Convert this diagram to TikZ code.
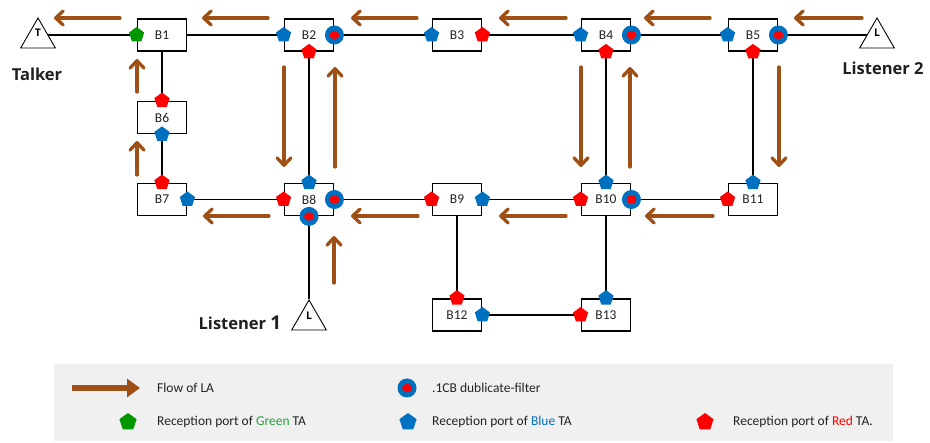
\documentclass[tikz,border=0pt]{standalone}
\usepackage{fontspec}
\setmainfont{Carlito}
\newfontfamily\labelfont{Open Sans}
\usetikzlibrary{shapes.geometric,arrows.meta}
\definecolor{flowbrown}{RGB}{158,80,22}
\definecolor{portblue}{RGB}{0,112,192}
\definecolor{portred}{RGB}{255,0,0}
\definecolor{portgreen}{RGB}{0,150,0}
\definecolor{wordgreen}{RGB}{40,160,60}
\definecolor{legendbg}{RGB}{240,240,240}
\definecolor{txt}{RGB}{35,35,35}
\pgfdeclarelayer{wires}
\pgfsetlayers{wires,main}
\begin{document}
\begin{tikzpicture}[x=1pt,y=-1pt,
  bridge/.style={draw,line width=1.8pt,fill=white,minimum width=49pt,minimum height=32pt,
    inner sep=0pt,text=txt,font=\fontsize{13.5}{13.5}\selectfont},
  wire/.style={line width=1.6pt},
  station/.style={regular polygon,regular polygon sides=3,draw,line width=0.9pt,fill=white,
    minimum size=40pt,inner sep=0pt},
  stletter/.style={font=\labelfont\bfseries\fontsize{10.5}{10.5}\selectfont,inner sep=0pt},
  stname/.style={font=\labelfont\bfseries\fontsize{16.5}{16.5}\selectfont,text=black!88,inner sep=0pt},
  pent/.style={regular polygon,regular polygon sides=5,minimum size=16pt,inner sep=0pt,draw=none},
  blueport/.style={pent,fill=portblue},
  redport/.style={pent,fill=portred},
  greenport/.style={pent,fill=portgreen},
  dupfilter/.style={circle,fill=portblue,minimum size=19pt,inner sep=0pt,
    path picture={\fill[portred] (path picture bounding box.center) ellipse (5pt and 4.2pt);}},
  flow/.style={draw=flowbrown,line width=3.3pt,line cap=round,
    -{Straight Barb[length=7.5pt,width=14pt,line join=round,line cap=round]}},
  legtext/.style={anchor=west,inner sep=0pt,text=txt,font=\fontsize{13.5}{13.5}\selectfont},
]
\useasboundingbox (0,0) rectangle (930,443);

% legend panel
\fill[legendbg] (54,364) rectangle (893,441);

% bridges
\node[bridge] (B1) at (162,35) {B1};
\node[bridge] (B2) at (309,35) {B2};
\node[bridge] (B3) at (457,35) {B3};
\node[bridge] (B4) at (606,35) {B4};
\node[bridge] (B5) at (753,35) {B5};
\node[bridge] (B6) at (162,117.5) {B6};
\node[bridge] (B7) at (162,199.5) {B7};
\node[bridge] (B8) at (309,199.5) {B8};
\node[bridge] (B9) at (457,199.5) {B9};
\node[bridge] (B10) at (606,199.5) {B10};
\node[bridge] (B11) at (753,199.5) {B11};
\node[bridge] (B12) at (457,315) {B12};
\node[bridge] (B13) at (606,315) {B13};

% end stations
\node[station] (talker) at (38,38) {};
\node[stletter] (talkerT) at (38,33) {T};
\node[station] (L2) at (877,38) {};
\node[stletter] (L2L) at (877,33) {L};
\node[station] (L1) at (309,320) {};
\node[stletter] (L1L) at (309,316) {L};

\node[stname] (talkername) at (37,74) {Talker};
\node[stname] (L2name) at (883,68) {Listener 2};
\node[stname] (L1name) at (240,323) {Listener {\fontsize{19}{19}\selectfont 1}};

% links
\begin{pgfonlayer}{wires}
  \draw[wire] (B1.west) -- (B1.west -| talker.center);
  \draw[wire] (B1) -- (B2);
  \draw[wire] (B2) -- (B3);
  \draw[wire] (B3) -- (B4);
  \draw[wire] (B4) -- (B5);
  \draw[wire] (B5.east) -- (B5.east -| L2.center);
  \draw[wire] (B1) -- (B6);
  \draw[wire] (B6) -- (B7);
  \draw[wire] (B7) -- (B8);
  \draw[wire] (B8) -- (B9);
  \draw[wire] (B9) -- (B10);
  \draw[wire] (B10) -- (B11);
  \draw[wire] (B2) -- (B8);
  \draw[wire] (B4) -- (B10);
  \draw[wire] (B5) -- (B11);
  \draw[wire] (B9) -- (B12);
  \draw[wire] (B10) -- (B13);
  \draw[wire] (B12) -- (B13);
  \draw[wire] (B8) -- (L1.corner 1);
\end{pgfonlayer}

% reception ports and duplicate filters
\node[greenport] (p1w) at (B1.west) {};
\node[blueport] (p2w) at (B2.west) {};
\node[redport] (p2s) at (B2.south) {};
\node[dupfilter] (f2e) at (B2.east) {};
\node[blueport] (p3w) at (B3.west) {};
\node[redport] (p3e) at (B3.east) {};
\node[blueport] (p4w) at (B4.west) {};
\node[redport] (p4s) at (B4.south) {};
\node[dupfilter] (f4e) at (B4.east) {};
\node[blueport] (p5w) at (B5.west) {};
\node[redport] (p5s) at (B5.south) {};
\node[dupfilter] (f5e) at (B5.east) {};
\node[redport] (p6n) at (B6.north) {};
\node[blueport] (p6s) at (B6.south) {};
\node[redport] (p7n) at (B7.north) {};
\node[blueport] (p7e) at (B7.east) {};
\node[blueport] (p8n) at (B8.north) {};
\node[redport] (p8w) at (B8.west) {};
\node[dupfilter] (f8e) at (B8.east) {};
\node[dupfilter] (f8s) at (B8.south) {};
\node[redport] (p9w) at (B9.west) {};
\node[blueport] (p9e) at (B9.east) {};
\node[blueport] (p10n) at (B10.north) {};
\node[redport] (p10w) at (B10.west) {};
\node[dupfilter] (f10e) at (B10.east) {};
\node[blueport] (p11n) at (B11.north) {};
\node[redport] (p11w) at (B11.west) {};
\node[redport] (p12n) at (B12.north) {};
\node[blueport] (p12e) at (B12.east) {};
\node[blueport] (p13n) at (B13.north) {};
\node[redport] (p13w) at (B13.west) {};

% flow of the listener attribute
\draw[flow] (120,18) -- (54,18);
\draw[flow] (268,18) -- (202,18);
\draw[flow] (417,18) -- (351,18);
\draw[flow] (566,18) -- (499,18);
\draw[flow] (710,18) -- (644,18);
\draw[flow] (862,18) -- (794,18);
\draw[flow] (269,216) -- (203,216);
\draw[flow] (418,216) -- (351,216);
\draw[flow] (566,216) -- (499,216);
\draw[flow] (713,216) -- (645,216);
\draw[flow] (137,92) -- (137,59);
\draw[flow] (137,175) -- (137,141);
\draw[flow] (284,67) -- (284,167);
\draw[flow] (335,167) -- (335,67);
\draw[flow] (581,67) -- (581,167);
\draw[flow] (630,167) -- (630,67);
\draw[flow] (779,67) -- (779,167);
\draw[flow] (334,283) -- (334,236);

% legend
\draw[draw=flowbrown,line width=6.5pt,-{Triangle[length=13pt,width=18pt]}] (72,388) -- (140,388);
\node[legtext] (lg1) at (157,388) {Flow of LA};
\node[dupfilter] (lgf) at (407,388) {};
\node[legtext] (lg2) at (432,388) {.1CB dublicate-filter};
\node[greenport,minimum size=18pt] (lgg) at (128,422) {};
\node[legtext] (lg3) at (157,422) {Reception port of \textcolor{wordgreen}{Green} TA};
\node[blueport,minimum size=18pt] (lgb) at (408,422) {};
\node[legtext] (lg4) at (432,422) {Reception port of \textcolor{portblue}{Blue} TA};
\node[redport,minimum size=18pt] (lgr) at (705,422) {};
\node[legtext] (lg5) at (733,422) {Reception port of \textcolor{portred}{Red} TA.};
\end{tikzpicture}
\end{document}
